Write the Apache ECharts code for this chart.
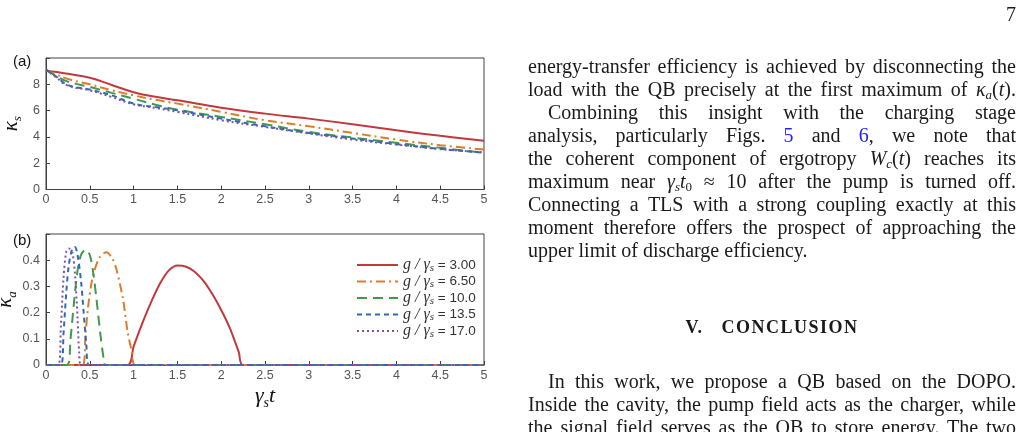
<!DOCTYPE html>
<html>
<head>
<meta charset="utf-8">
<script src="https://cdn.jsdelivr.net/npm/echarts@6/dist/echarts.min.js"></script>
<style>
    html, body {margin: 0; padding: 0; background: #fff;}
    #chart {position: absolute; left: 0; top: 0; width: 1024px; height: 432px;}
    #page {position: absolute; left: 528px; top: 0; width: 488px; font-family: 'Liberation Serif', serif; font-size: 20px; color: #1a1a1a;}
    #page div {position: absolute; left: 0; width: 488px; height: 23px; line-height: 23px; white-space: nowrap;}
    #page div.j {text-align: justify; text-align-last: justify; white-space: normal; overflow: visible;}
    #page div.ind {left: 20px; width: 468px;}
    #page sub {font-size: 13px; vertical-align: -3px; line-height: 0;}
    #page a {color: #1f1fff; text-decoration: none;}
</style>
</head>
<body>
<div id="chart"></div>
<div id="page">
    <div style="left:478px;width:12px;top:3px">7</div>
    <div class="j" style="top:55px">energy-transfer efficiency is achieved by disconnecting the</div>
    <div class="j" style="top:78px">load with the QB precisely at the first maximum of <i>κ</i><sub><i>a</i></sub>(<i>t</i>).</div>
    <div class="j ind" style="top:101px">Combining this insight with the charging stage</div>
    <div class="j" style="top:124px">analysis, particularly Figs. <a>5</a> and <a>6</a>, we note that</div>
    <div class="j" style="top:147px">the coherent component of ergotropy <i>W</i><sub><i>c</i></sub>(<i>t</i>) reaches its</div>
    <div class="j" style="top:170px">maximum near <i>γ</i><sub><i>s</i></sub><i>t</i><sub>0</sub> ≈ 10 after the pump is turned off.</div>
    <div class="j" style="top:193px">Connecting a TLS with a strong coupling exactly at this</div>
    <div class="j" style="top:216px">moment therefore offers the prospect of approaching the</div>
    <div style="top:239px">upper limit of discharge efficiency.</div>
    <div style="top:316px;text-align:center;font-weight:bold;font-size:18px;letter-spacing:1.5px">V.&nbsp;&nbsp;&nbsp;CONCLUSION</div>
    <div class="j ind" style="top:370px">In this work, we propose a QB based on the DOPO.</div>
    <div class="j" style="top:393px">Inside the cavity, the pump field acts as the charger, while</div>
    <div class="j" style="top:416px">the signal field serves as the QB to store energy. The two</div>
</div>
<script>
    // 曲线名称 g/γs
    var names = ['3.00', '6.50', '10.0', '13.5', '17.0'];
    var colors = ['#C0393E', '#E07B2B', '#3F9A4E', '#2E6AB7', '#7B52A6'];
    var dashes = ['solid', [9, 4, 2, 4], [10, 6], [5, 4], [2, 3]];

    // (a) κs
    var tTop = [0, 0.1, 0.25, 0.5, 0.75, 1, 1.25, 1.5, 2, 2.5, 3, 3.5, 4, 4.5, 5];
    var ksRed = [9.05, 8.95, 8.8, 8.5, 7.95, 7.4, 7.05, 6.78, 6.22, 5.77, 5.39, 4.96, 4.5, 4.08, 3.7];
    var ksOrange = [9.1, 8.8, 8.4, 8.0, 7.55, 7.16, 6.82, 6.53, 5.9, 5.27, 4.81, 4.3, 3.8, 3.37, 3.04];
    var ksGreen = [9.1, 8.7, 8.2, 7.8, 7.35, 6.9, 6.45, 6.07, 5.52, 4.96, 4.38, 3.95, 3.55, 3.17, 2.79];
    var ksBlue = [9.1, 8.67, 7.95, 7.6, 7.16, 6.53, 6.27, 6.02, 5.39, 4.81, 4.3, 3.88, 3.45, 3.09, 2.79];
    var ksPurple = [9.1, 8.6, 7.9, 7.54, 7.03, 6.48, 6.2, 5.9, 5.27, 4.76, 4.26, 3.8, 3.42, 3.07, 2.82];

    // (b) κa
    var tRed = [0, 0.93, 1.0, 1.1, 1.2, 1.3, 1.4, 1.5, 1.6, 1.7, 1.8, 1.9, 2.0, 2.1, 2.2, 2.25, 5];
    var kaRed = [0, 0, 0.07, 0.16, 0.24, 0.31, 0.36, 0.38, 0.375, 0.355, 0.32, 0.27, 0.21, 0.14, 0.05, 0, 0];
    var tOrange = [0, 0.42, 0.45, 0.48, 0.53, 0.61, 0.69, 0.75, 0.8, 0.88, 0.93, 0.98, 1.02, 5];
    var kaOrange = [0, 0, 0.11, 0.22, 0.33, 0.41, 0.43, 0.41, 0.37, 0.25, 0.13, 0.05, 0, 0];
    var tGreen = [0, 0.24, 0.28, 0.32, 0.36, 0.4, 0.45, 0.5, 0.54, 0.58, 0.62, 0.66, 0.68, 5];
    var kaGreen = [0, 0, 0.1, 0.24, 0.36, 0.42, 0.44, 0.42, 0.35, 0.24, 0.12, 0.02, 0, 0];
    var tBlue = [0, 0.17, 0.2, 0.23, 0.26, 0.3, 0.33, 0.36, 0.4, 0.43, 0.46, 0.49, 5];
    var kaBlue = [0, 0, 0.12, 0.27, 0.38, 0.445, 0.45, 0.42, 0.32, 0.2, 0.08, 0, 0];
    var tPurple = [0, 0.14, 0.17, 0.2, 0.23, 0.26, 0.3, 0.33, 0.36, 0.38, 0.4, 5];
    var kaPurple = [0, 0, 0.15, 0.33, 0.43, 0.445, 0.43, 0.35, 0.18, 0.04, 0, 0];

    var topY = [ksRed, ksOrange, ksGreen, ksBlue, ksPurple];
    var botT = [tRed, tOrange, tGreen, tBlue, tPurple];
    var botY = [kaRed, kaOrange, kaGreen, kaBlue, kaPurple];

    var zip = function (xs, ys) {
        return xs.map(function (x, i) { return [x, ys[i]]; });
    };

    var axisColor = '#404040', labelColor = '#555';
    var sub = {fontSize: 13, fontStyle: 'italic', fontFamily: 'Liberation Serif', color: '#111', verticalAlign: 'bottom', lineHeight: 26};

    var xAxisBase = function (idx) {
        return {
            type: 'value', gridIndex: idx, min: 0, max: 5, interval: 0.5,
            axisLine: {lineStyle: {color: axisColor}},
            axisTick: {inside: true, length: 4, lineStyle: {color: axisColor}},
            axisLabel: {color: labelColor, fontSize: 12.5, fontFamily: 'Liberation Sans', margin: 4},
            splitLine: {show: false}
        };
    };
    var yAxisBase = function (idx, max, interval, name) {
        return {
            type: 'value', gridIndex: idx, min: 0, max: max, interval: interval,
            name: name, nameLocation: 'middle', nameGap: 22, nameRotate: 90,
            nameTextStyle: {
                rich: {
                    k: {fontSize: 21, fontStyle: 'italic', fontFamily: 'Liberation Serif', color: '#111', lineHeight: 26},
                    s: sub
                }
            },
            axisLine: {show: true, lineStyle: {color: axisColor}},
            axisTick: {inside: true, length: 4, lineStyle: {color: axisColor}},
            axisLabel: {
                color: labelColor, fontSize: 12.5, fontFamily: 'Liberation Sans', margin: 6,
                formatter: function (v) { return v >= max - 1e-9 ? '' : String(v); }
            },
            splitLine: {show: false}
        };
    };

    var series = [];
    names.forEach(function (n, i) {
        series.push({
            name: n, type: 'line', xAxisIndex: 0, yAxisIndex: 0,
            data: zip(tTop, topY[i]), smooth: 0.4, symbol: 'none',
            lineStyle: {color: colors[i], width: 2, type: dashes[i]}, itemStyle: {color: colors[i]}
        });
    });
    names.forEach(function (n, i) {
        series.push({
            name: n, type: 'line', xAxisIndex: 1, yAxisIndex: 1,
            data: zip(botT[i], botY[i]), smooth: 0.3, symbol: 'none',
            lineStyle: {color: colors[i], width: 2, type: dashes[i]}, itemStyle: {color: colors[i]}
        });
    });

    var option = {
        animation: false,
        backgroundColor: 'transparent',
        grid: [
            {left: 46, top: 58, width: 438, height: 131.5, show: true, borderColor: axisColor, borderWidth: 1, outerBoundsMode: 'none', containLabel: false},
            {left: 46, top: 234, width: 438, height: 131, show: true, borderColor: axisColor, borderWidth: 1, outerBoundsMode: 'none', containLabel: false}
        ],
        xAxis: [
            xAxisBase(0),
            Object.assign(xAxisBase(1), {
                name: '{g|γ}{s|s}{g|t}', nameLocation: 'middle', nameGap: 17,
                nameTextStyle: {
                    rich: {
                        g: {fontSize: 22, fontStyle: 'italic', fontFamily: 'Liberation Serif', color: '#111', lineHeight: 28},
                        s: Object.assign({}, sub, {fontSize: 14, lineHeight: 28})
                    }
                }
            })
        ],
        yAxis: [
            yAxisBase(0, 10, 2, '{k|κ}{s|s}'),
            yAxisBase(1, 0.5, 0.1, '{k|κ}{s|a}')
        ],
        legend: {
            orient: 'vertical', left: 356, top: 257, padding: 0,
            itemWidth: 41, itemHeight: 11, itemGap: 0,
            data: names,
            itemStyle: {opacity: 0},
            formatter: function (n) { return '{i|g / γ}{s|s}{n| = ' + n + '}'; },
            textStyle: {
                rich: {
                    i: {fontSize: 16, fontStyle: 'italic', fontFamily: 'Liberation Serif', color: '#333', lineHeight: 17},
                    s: {fontSize: 11, fontStyle: 'italic', fontFamily: 'Liberation Serif', color: '#333', verticalAlign: 'bottom', lineHeight: 17},
                    n: {fontSize: 13.5, fontFamily: 'Liberation Sans', color: '#333', lineHeight: 17}
                }
            }
        },
        graphic: [
            {type: 'text', left: 13, top: 54, style: {text: '(a)', fontSize: 15, fontFamily: 'Liberation Sans', fill: '#111'}},
            {type: 'text', left: 13, top: 233, style: {text: '(b)', fontSize: 15, fontFamily: 'Liberation Sans', fill: '#111'}}
        ],
        series: series
    };

    var myChart = echarts.init(document.getElementById('chart'), null, {renderer: 'canvas'});
    myChart.setOption(option);
</script>
</body>
</html>
